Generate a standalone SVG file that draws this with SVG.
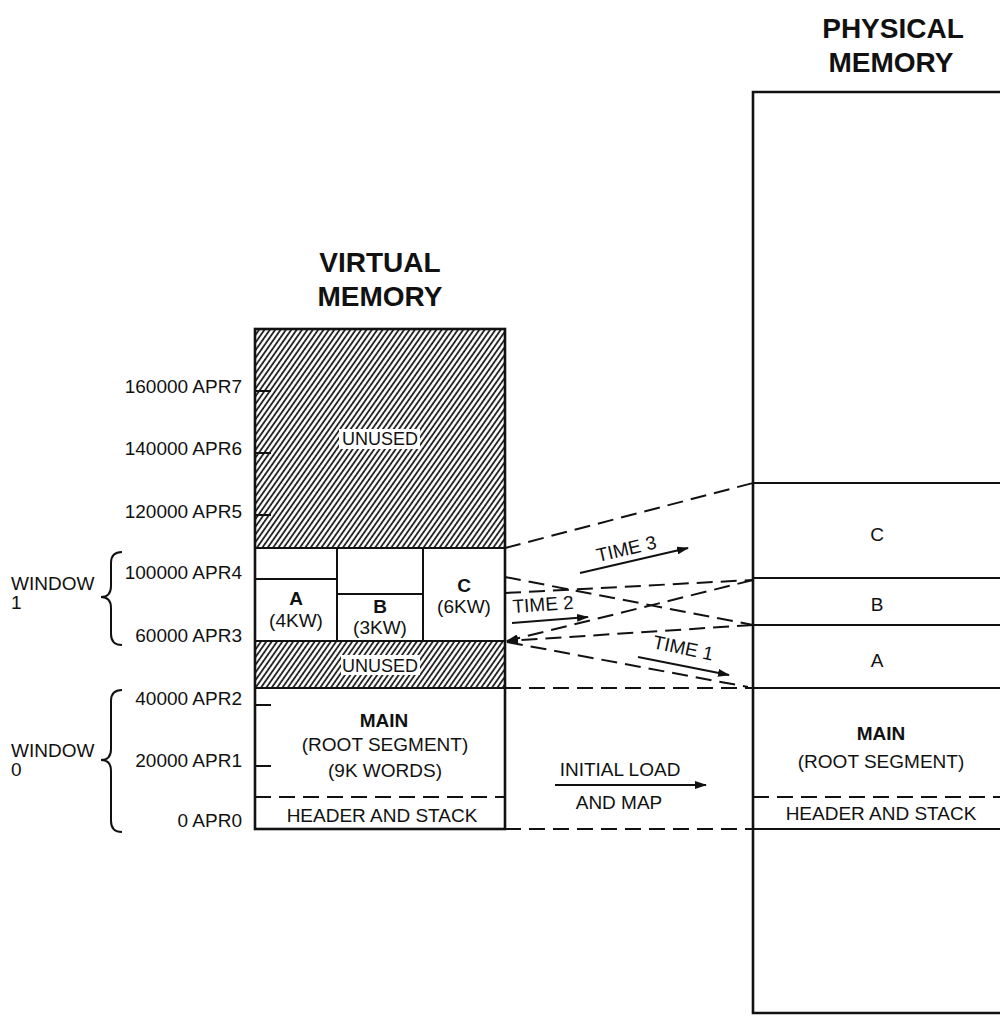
<svg xmlns="http://www.w3.org/2000/svg" width="1000" height="1018" viewBox="0 0 1000 1018">
  <style>
    text { font-family: "Liberation Sans", Arial, Helvetica, sans-serif; font-size: 19px; fill: #111; }
    .b { font-weight: bold; }
    .title { font-weight: bold; font-size: 28px; text-anchor: middle; }
    .mid { text-anchor: middle; }
    .end { text-anchor: end; }
    .box { fill: none; stroke: #111; stroke-width: 2.6; }
    .ln { fill: none; stroke: #111; stroke-width: 2; }
    .dash { fill: none; stroke: #111; stroke-width: 2; stroke-dasharray: 16 8; }
    .arrow { fill: none; stroke: #111; stroke-width: 2; }
  </style>
  <defs>
    <pattern id="hatch" patternUnits="userSpaceOnUse" width="4.4" height="10" patternTransform="rotate(35)">
      <rect width="4.4" height="10" fill="#fff"/>
      <line x1="1" y1="0" x2="1" y2="10" stroke="#111" stroke-width="1.7"/>
    </pattern>
    <marker id="head" viewBox="0 0 12 8" refX="11" refY="4" markerWidth="12" markerHeight="8" markerUnits="userSpaceOnUse" orient="auto">
      <path d="M0,0 L12,4 L0,8 z" fill="#111"/>
    </marker>
    <marker id="headL" viewBox="0 0 12 8" refX="1" refY="4" markerWidth="12" markerHeight="8" markerUnits="userSpaceOnUse" orient="auto">
      <path d="M12,0 L0,4 L12,8 z" fill="#111"/>
    </marker>
  </defs>

  <rect width="1000" height="1018" fill="#fff"/>

  <!-- titles -->
  <g id="title-virtual">
    <text class="title" x="380" y="272">VIRTUAL</text>
    <text class="title" x="380" y="306">MEMORY</text>
  </g>
  <g id="title-physical">
    <text class="title" x="893" y="38">PHYSICAL</text>
    <text class="title" x="891" y="72">MEMORY</text>
  </g>

  <!-- address labels -->
  <g id="addresses">
    <text class="end" x="242" y="393">160000  APR7</text>
    <text class="end" x="242" y="455">140000  APR6</text>
    <text class="end" x="242" y="518">120000  APR5</text>
    <text class="end" x="242" y="579">100000 APR4</text>
    <text class="end" x="242" y="642">60000 APR3</text>
    <text class="end" x="242" y="705">40000 APR2</text>
    <text class="end" x="242" y="767">20000 APR1</text>
    <text class="end" x="242" y="827">0 APR0</text>
  </g>

  <!-- window braces -->
  <g id="window1">
    <path class="ln" d="M122,552 Q111,552 111,563 L111,586 Q111,597 101,597 Q111,597 111,608 L111,634 Q111,645 122,645"/>
    <text x="11" y="590">WINDOW</text>
    <text x="11" y="609">1</text>
  </g>
  <g id="window0">
    <path class="ln" d="M122,690 Q111,690 111,701 L111,749 Q111,760 101,760 Q111,760 111,771 L111,821 Q111,832 122,832"/>
    <text x="11" y="757">WINDOW</text>
    <text x="11" y="776">0</text>
  </g>

  <!-- virtual memory -->
  <g id="virtual-memory">
    <rect x="255" y="329" width="250" height="219" fill="url(#hatch)"/>
    <rect x="255" y="641" width="250" height="47" fill="url(#hatch)"/>
    <rect x="339" y="429" width="81" height="20" fill="#fff"/>
    <text class="mid" x="380" y="445" style="font-size:18px">UNUSED</text>
    <rect x="341" y="655" width="79" height="20" fill="#fff"/>
    <text class="mid" x="380" y="672" style="font-size:18px">UNUSED</text>
    <!-- region boundaries -->
    <line class="ln" x1="255" y1="548" x2="505" y2="548"/>
    <line class="ln" x1="255" y1="641" x2="505" y2="641"/>
    <line class="ln" x1="255" y1="688" x2="505" y2="688"/>
    <line class="dash" x1="255" y1="797" x2="505" y2="797"/>
    <!-- address ticks -->
    <line class="ln" x1="255" y1="391" x2="271" y2="391"/>
    <line class="ln" x1="255" y1="453" x2="271" y2="453"/>
    <line class="ln" x1="255" y1="515" x2="271" y2="515"/>
    <line class="ln" x1="255" y1="705" x2="271" y2="705"/>
    <line class="ln" x1="255" y1="766" x2="271" y2="766"/>
    <rect class="box" x="255" y="329" width="250" height="500"/>
  </g>

  <g id="overlay-a">
    <line class="ln" x1="255" y1="579" x2="337" y2="579"/>
    <line class="ln" x1="337" y1="548" x2="337" y2="641"/>
    <text class="mid b" x="296" y="605">A</text>
    <text class="mid" x="296" y="627">(4KW)</text>
  </g>
  <g id="overlay-b">
    <line class="ln" x1="337" y1="594" x2="423" y2="594"/>
    <line class="ln" x1="423" y1="548" x2="423" y2="641"/>
    <text class="mid b" x="380" y="613">B</text>
    <text class="mid" x="380" y="634">(3KW)</text>
  </g>
  <g id="overlay-c">
    <text class="mid b" x="464" y="592">C</text>
    <text class="mid" x="464" y="613">(6KW)</text>
  </g>
  <g id="main-virtual">
    <text class="mid b" x="384" y="727">MAIN</text>
    <text class="mid" x="385" y="751">(ROOT SEGMENT)</text>
    <text class="mid" x="385" y="777">(9K WORDS)</text>
  </g>
  <g id="header-virtual">
    <text class="mid" x="382" y="822">HEADER AND STACK</text>
  </g>

  <!-- physical memory -->
  <g id="physical-memory">
    <path class="box" d="M1012,92 L753,92 L753,1013 L1012,1013"/>
    <line class="ln" x1="753" y1="483" x2="1000" y2="483"/>
    <line class="ln" x1="753" y1="578" x2="1000" y2="578"/>
    <line class="ln" x1="753" y1="625" x2="1000" y2="625"/>
    <line class="ln" x1="753" y1="688" x2="1000" y2="688"/>
    <line class="dash" x1="753" y1="797" x2="1000" y2="797"/>
    <line class="ln" x1="753" y1="829" x2="1000" y2="829"/>
  </g>
  <g id="phys-c"><text class="mid" x="877" y="541">C</text></g>
  <g id="phys-b"><text class="mid" x="877" y="611">B</text></g>
  <g id="phys-a"><text class="mid" x="877" y="667">A</text></g>
  <g id="main-physical">
    <text class="mid b" x="881" y="740">MAIN</text>
    <text class="mid" x="881" y="768">(ROOT SEGMENT)</text>
  </g>
  <g id="header-physical">
    <text class="mid" x="881" y="820">HEADER AND STACK</text>
  </g>

  <!-- mapping connectors -->
  <g id="connectors">
    <line class="dash" x1="505" y1="548" x2="753" y2="483"/>
    <line class="dash" x1="505" y1="577" x2="753" y2="625"/>
    <line class="dash" x1="505" y1="593" x2="753" y2="580"/>
    <line class="dash" x1="753" y1="580" x2="507" y2="641" marker-end="url(#head)"/>
    <line class="dash" x1="753" y1="625" x2="507" y2="641" marker-end="url(#head)"/>
    <line class="dash" x1="507" y1="642" x2="748" y2="687"/>
    <line class="dash" x1="505" y1="688" x2="753" y2="688"/>
    <line class="dash" x1="505" y1="829" x2="753" y2="829"/>

    <line class="arrow" x1="580" y1="573" x2="688" y2="548" marker-end="url(#head)"/>
    <line class="arrow" x1="512" y1="623" x2="588" y2="617" marker-end="url(#head)"/>
    <line class="arrow" x1="638" y1="657" x2="729" y2="675" marker-end="url(#head)"/>
    <line class="arrow" x1="555" y1="785" x2="706" y2="785" marker-end="url(#head)"/>

    <text x="598" y="562" transform="rotate(-13 598 562)">TIME 3</text>
    <text x="513" y="613" transform="rotate(-4 513 613)">TIME 2</text>
    <text x="652" y="648" transform="rotate(12 652 648)">TIME 1</text>
    <text class="mid" x="620" y="776">INITIAL LOAD</text>
    <text class="mid" x="619" y="809">AND MAP</text>
  </g>
</svg>
